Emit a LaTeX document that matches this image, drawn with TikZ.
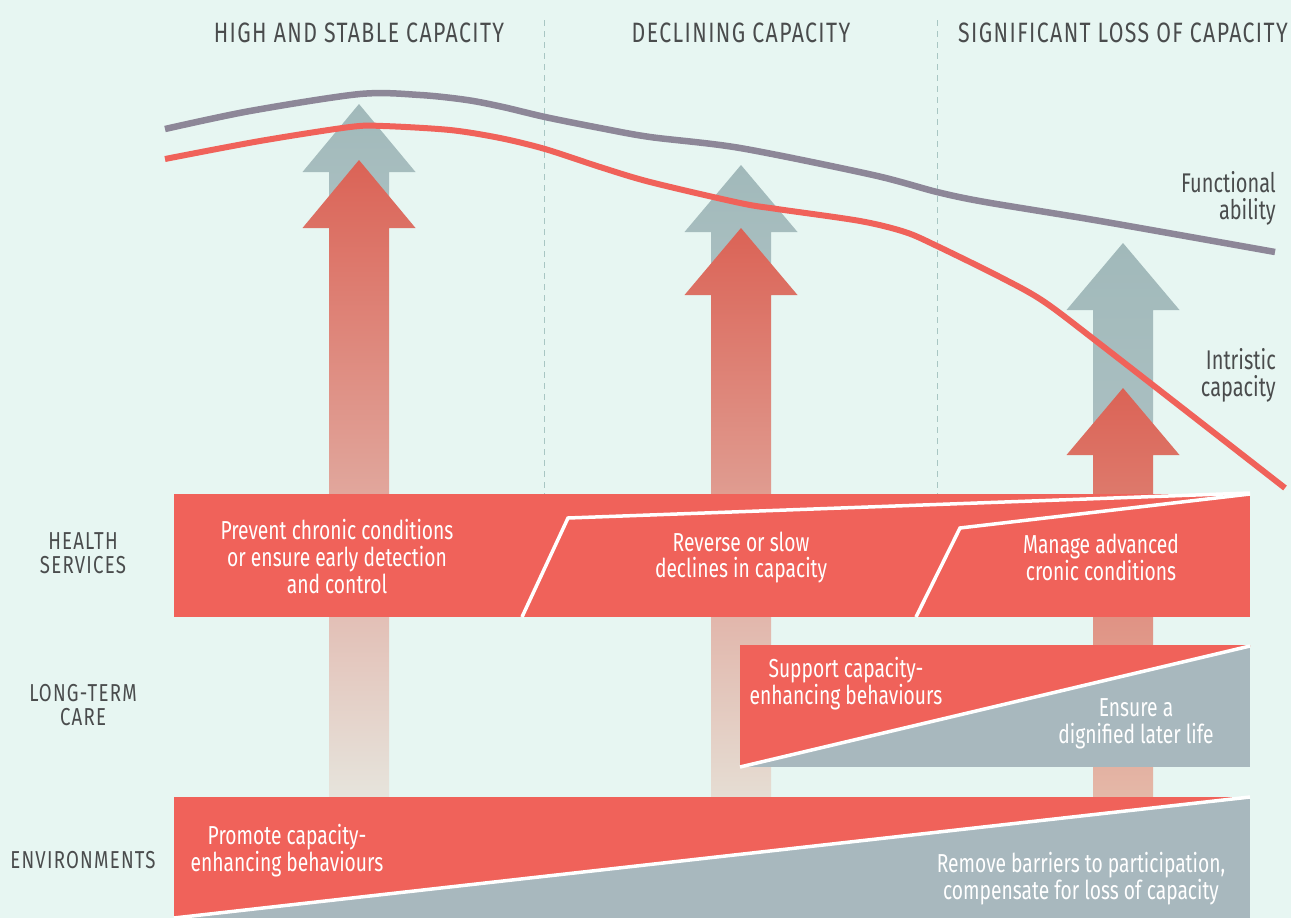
\documentclass[tikz,border=0pt]{standalone}
\usepackage{fontspec}
\setmainfont{Fira Sans}[FakeStretch=0.74]
\newfontfamily\capsfont{Fira Sans}[FakeStretch=0.76,LetterSpace=5]
\definecolor{bg}{HTML}{E7F6F2}
\definecolor{coral}{HTML}{F0625A}
\definecolor{slate}{HTML}{A8B8BE}
\definecolor{arrowgray}{HTML}{A1B9BA}
\definecolor{arrowgraylow}{HTML}{ABC0C2}
\definecolor{arrowred}{HTML}{DB6356}
\definecolor{fline}{HTML}{8D8798}
\definecolor{dashc}{HTML}{A8C6C3}
\definecolor{txt}{HTML}{4A4C4D}
\tikzset{
  header/.style={font=\capsfont\fontsize{28}{30}\selectfont, text=txt, inner sep=0pt},
  rowlabel/.style={font=\capsfont\fontsize{24.5}{24}\selectfont, text=txt, align=center, inner sep=0pt},
  boxtext/.style={font=\fontsize{26}{26.8}\selectfont, text=white, align=center, inner sep=0pt},
  sidetext/.style={font=\fontsize{27}{27}\selectfont, text=txt, align=right, anchor=east, inner sep=0pt},
  divider/.style={draw=dashc, line width=1pt, dash pattern=on 6pt off 5pt},
  whiteline/.style={draw=white, line width=3.5pt},
}
\newcommand\arrowpath[4]{(#1,#2) -- ({#1+56.5},#3) -- ({#1+30},#3) -- ({#1+30},#4) -- ({#1-30},#4) -- ({#1-30},#3) -- ({#1-56.5},#3) -- cycle}
\begin{document}
\begin{tikzpicture}[x=1pt,y=-1pt]
\useasboundingbox (0,0) rectangle (1291,918);
\fill[bg] (0,0) rectangle (1291,918);

% dividers
\draw[divider] (544,20) -- (544,495);
\draw[divider] (937,20) -- (937,495);

% headers
\node[header] (h1) at (359,33) {HIGH AND STABLE CAPACITY};
\node[header] (h2) at (741,33) {DECLINING CAPACITY};
\node[header] (h3) at (1123,33) {SIGNIFICANT LOSS OF CAPACITY};

% gray arrows
\shade[top color=arrowgray, bottom color=arrowgraylow] \arrowpath{359}{104}{172}{228};
\shade[top color=arrowgray, bottom color=arrowgraylow] \arrowpath{741}{165}{232}{295};
\shade[top color=arrowgray, bottom color=arrowgraylow] \arrowpath{1123}{243}{310}{455};
% red arrows
\shade[top color=arrowred, bottom color={rgb,255:red,230;green,228;blue,220}] \arrowpath{359}{160}{228}{797};
\shade[top color=arrowred, bottom color={rgb,255:red,229;green,221;blue,211}] \arrowpath{741}{228}{295}{797};
\shade[top color=arrowred, bottom color={rgb,255:red,228;green,184;blue,168}] \arrowpath{1123}{388}{455}{797};

% curves
\draw[fline, line width=6.5pt] plot[smooth, tension=0.5] coordinates {(165,129) (250,111) (360,94) (420,95) (467,100) (503,107) (545,117) (600,128) (650,137) (740,148) (873,175) (937,192) (985,202) (1100,221) (1275,252)};
\draw[coral, line width=6pt] plot[smooth, tension=0.5] coordinates {(165,159) (260,141) (350,127) (383,126) (450,130) (500,138) (545,149) (600,167) (650,182) (740,203) (777,209) (860,221) (905,232) (937,246) (1000,277) (1043,301) (1100,344) (1285,488)};

\node[sidetext] (fa) at (1276,198.5) {Functional\\ability};
\node[sidetext] (ic) at (1276,375.5) {Intristic\\capacity};

% health services
\fill[coral] (174,494) rectangle (1250,617);
\draw[whiteline] (522,617) -- (568,518) -- (1250,493);
\draw[whiteline] (916,617) -- (960,528) -- (1250,494);
\node[boxtext] (hs1) at (337,556.5) {Prevent chronic conditions\\or ensure early detection\\and control};
\node[boxtext] (hs2) at (741,557.5) {Reverse or slow\\declines in capacity};
\node[boxtext] (hs3) at (1101,557) {Manage advanced\\cronic conditions};

% long-term care
\fill[slate] (740,645) rectangle (1250,767);
\fill[coral] (740,645) -- (1250,645) -- (1250,647) -- (740,767) -- cycle;
\draw[whiteline] (740,767) -- (1250,646);
\node[boxtext] (lt1) at (846,684) {Support capacity-\\enhancing behaviours};
\node[boxtext] (lt2) at (1136,723.5) {Ensure a\\dignified later life};

% environments
\fill[slate] (174,797) rectangle (1250,918);
\fill[coral] (174,797) -- (1250,797) -- (174,918) -- cycle;
\draw[whiteline] (174,918) -- (1250,797);
\node[boxtext] (en1) at (287,850.5) {Promote capacity-\\enhancing behaviours};
\node[boxtext] (en2) at (1081,878.5) {Remove barriers to participation,\\compensate for loss of capacity};

% row labels
\node[rowlabel] (r1) at (83,553.5) {HEALTH\\SERVICES};
\node[rowlabel] (r2) at (83,705.5) {LONG-TERM\\CARE};
\node[rowlabel] (r3) at (83,860) {ENVIRONMENTS};
\end{tikzpicture}
\end{document}
